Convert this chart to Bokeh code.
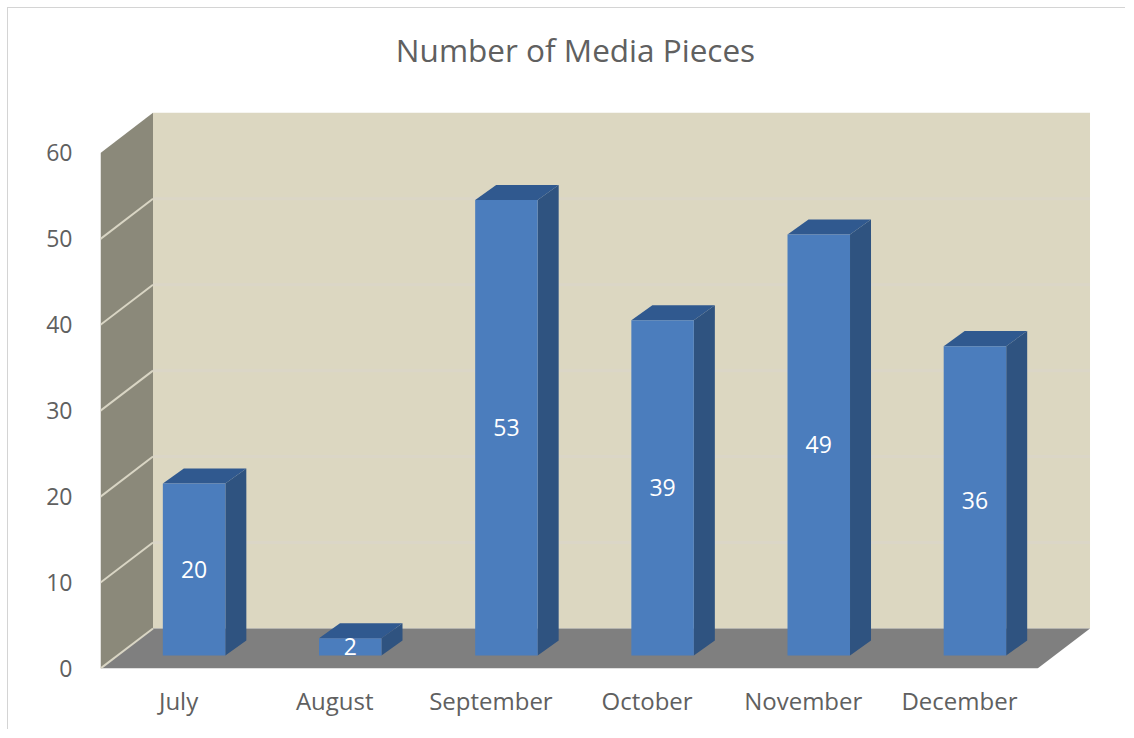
from bokeh.plotting import figure
from bokeh.models import Range1d, FixedTicker
from bokeh.embed import file_html
from bokeh.resources import INLINE
from bokeh.core.properties import value as pv

TITLE = "Number of Media Pieces"
categories = ["July", "August", "September", "October", "November", "December"]
pieces = [20, 2, 53, 39, 49, 36]
y_ticks = [0, 10, 20, 30, 40, 50, 60]

FONT = "Open Sans"
GRAY = "#606060"
PX_X = 156.17   # pixels per category
PX_Y = 8.58     # pixels per unit
FRAME_W, FRAME_H = 991, 659

def dx(px): return px / PX_X
def dy(px): return px / PX_Y

p = figure(width=1118, height=722, output_backend="svg", toolbar_location=None,
           x_range=Range1d(-0.5, -0.5 + dx(FRAME_W)), y_range=Range1d(0, dy(FRAME_H)),
           min_border_left=92, min_border_right=35, min_border_top=0, min_border_bottom=62,
           background_fill_color=None, border_fill_color="white",
           outline_line_color=None, tools="")
p.styles = {"border-top": "1px solid #d4d4d4", "border-left": "1px solid #d4d4d4",
            "box-sizing": "border-box", "margin-left": "7px", "margin-top": "7px"}
p.grid.visible = False

for ax in (p.xaxis[0], p.yaxis[0]):
    ax.axis_line_color = None
    ax.major_tick_line_color = None
    ax.minor_tick_line_color = None
    ax.major_label_text_font = FONT
    ax.major_label_text_color = GRAY
p.yaxis[0].major_label_text_font_size = "23px"
p.xaxis[0].major_label_text_font_size = "24px"
p.yaxis[0].ticker = FixedTicker(ticks=y_ticks)
p.yaxis[0].major_label_standoff = 22
p.xaxis[0].ticker = FixedTicker(ticks=list(range(len(categories))))
p.xaxis[0].major_label_overrides = {i: c for i, c in enumerate(categories)}
p.xaxis[0].major_label_standoff = 9

n = len(categories)
x0, x1 = -0.5, n - 0.5
ymax = y_ticks[-1]
WX, WY = dx(52.5), dy(40)

# title, drawn in the frame above the chart walls
p.text([x0 + dx(475)], [dy(618)], text=[TITLE], text_color=GRAY, text_font=pv(FONT),
       text_font_size="31.5px", text_align="center", text_baseline="middle")

# back wall, side wall, floor
p.patch([x0 + WX, x1 + WX, x1 + WX, x0 + WX], [WY, WY, ymax + WY, ymax + WY], color="#dcd7c1", line_color=None)
p.patch([x0, x0 + WX, x0 + WX, x0], [0, WY, ymax + WY, ymax], color="#8b897a", line_color=None)
p.patch([x0, x1, x1 + WX, x0 + WX], [0, 0, WY, WY], color="#7f7f7f", line_color=None)

# gridlines on back wall and side wall
for t in y_ticks:
    if 0 < t < ymax:
        p.line([x0 + WX, x1 + WX], [t + WY, t + WY], line_color="#dbd6c7", line_width=3)
    if t < ymax:
        p.line([x0, x0 + WX], [t, t + WY], line_color="#d9d5c4", line_width=2)

# 3D bars
BW, BOFF, BBASE = dx(62.5), dx(15.5), dy(13)
DX, DY = dx(21), dy(15)
lefts = [i + BOFF - BW / 2 for i in range(n)]
rights = [l + BW for l in lefts]
tops = [v + BBASE for v in pieces]

p.patches([[r, r + DX, r + DX, r] for r in rights],
          [[BBASE, BBASE + DY, t + DY, t] for t in tops], color="#2f5380", line_color=None)
p.patches([[l, r, r + DX, l + DX] for l, r in zip(lefts, rights)],
          [[t, t, t + DY, t + DY] for t in tops], color="#30598f", line_color=None)
p.quad(left=lefts, right=rights, bottom=BBASE, top=tops, color="#4b7dbd", line_color=None)

p.text([i + BOFF for i in range(n)], [v / 2 + BBASE for v in pieces], text=[str(v) for v in pieces],
       text_color="white", text_font=pv(FONT), text_font_size="23px",
       text_align="center", text_baseline="middle")

open("out.html", "w").write(file_html(p, INLINE))
